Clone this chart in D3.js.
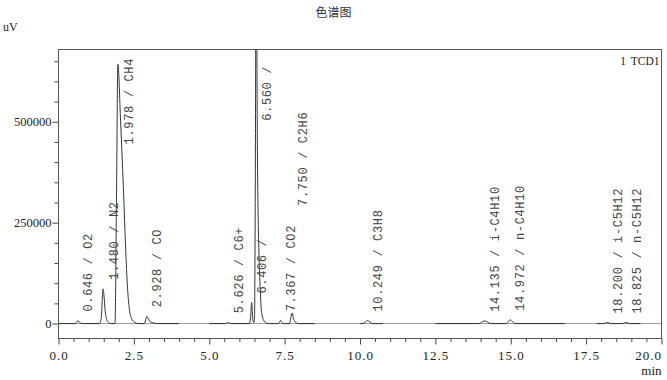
<!DOCTYPE html>
<html><head><meta charset="utf-8">
<script src="https://cdn.jsdelivr.net/npm/d3@7/dist/d3.min.js"></script>
<style>body{margin:0;background:#fff}svg{display:block}</style>
</head><body>
<svg id="c" width="667" height="380"></svg>
<script>
// ---- data ----
const xTicksMajor = [0, 2.5, 5, 7.5, 10, 12.5, 15, 17.5, 20];
const yTicksMajor = [0, 250000, 500000];
const peakTimes = [0.646, 1.480, 1.978, 2.928, 5.626, 6.406, 6.560, 7.367, 7.750, 10.249, 14.135, 14.972, 18.200, 18.825];
const peakNames = ["O2", "N2", "CH4", "CO", "C6+", "", "", "CO2", "C2H6", "C3H8", "i-C4H10", "n-C4H10", "i-C5H12", "n-C5H12"];
const peakHeights = [7500, 86000, 642000, 18000, 3200, 52000, 950000, 8000, 26400, 7500, 6700, 9500, 2500, 2500];

// chromatogram trace, [min, uV]
const trace1 = [[0,0],[0.56,0],[0.61,3500],[0.646,7500],[0.69,3500],[0.76,500],[0.85,0],
  [1.36,0],[1.42,15000],[1.455,65000],[1.48,86000],[1.51,68000],[1.55,30000],[1.60,10000],[1.66,2500],[1.74,0],
  [1.875,0],[1.924,321000],[1.970,642000],[2.06,500000],[2.15,340000],[2.22,200000],[2.28,100000],[2.34,42000],[2.42,13000],[2.52,3000],[2.65,0],
  [2.85,0],[2.89,9000],[2.93,18000],[2.97,13000],[3.04,5000],[3.14,1500],[3.3,0],[4.0,0]];
const trace2 = [[5.0,0],[5.55,0],[5.60,2000],[5.626,3200],[5.66,2000],[5.72,0],
  [6.33,0],[6.37,14000],[6.406,52000],[6.44,14000],[6.475,2500],[6.50,8000],[6.525,300000],[6.556,950000],[6.60,400000],[6.64,200000],[6.68,105000],[6.73,32000],[6.80,9000],[6.90,1000],[7.0,0],
  [7.30,0],[7.335,4000],[7.367,8000],[7.40,4000],[7.45,0],
  [7.66,0],[7.70,12000],[7.75,26400],[7.79,14000],[7.85,4000],[7.95,0],[8.5,0]];
const trace3 = [[10.0,0],[10.1,0],[10.17,3500],[10.25,7500],[10.33,3500],[10.42,0],[10.76,0]];
const trace4 = [[12.5,0],[13.95,0],[14.05,4000],[14.14,6700],[14.23,3500],[14.33,0],[14.85,0],[14.92,5000],[14.98,9500],[15.05,5000],[15.15,0],[16.8,0]];
const trace5 = [[17.85,0],[18.08,0],[18.2,2500],[18.32,0],[18.7,0],[18.83,2500],[18.95,0],[19.3,0]];

// ---- chart ----
const svg = d3.select("#c");
const x = d3.scaleLinear().domain([0, 20]).range([58.5, 661.5]);
const y = d3.scaleLinear().domain([-37000, 679000]).range([338.5, 49.5]);
const pTop = y.range()[1], pBottom = y.range()[0], pLeft = x.range()[0], pRight = x.range()[1];

svg.append("text").attr("x", 333.5).attr("y", 17).attr("text-anchor", "middle")
  .style("font-family", "'Noto Sans CJK SC'").style("font-size", "12px").attr("fill", "#333").text("色谱图");
svg.append("text").attr("x", 3).attr("y", 31).style("font-family", "'Liberation Serif'")
  .style("font-size", "12px").attr("fill", "#222").text("uV");
svg.append("text").attr("x", pRight).attr("y", 375).attr("text-anchor", "end").style("font-family", "'Liberation Serif'")
  .style("font-size", "13px").attr("fill", "#222").text("min");

svg.append("clipPath").attr("id", "clip").append("rect")
  .attr("x", pLeft).attr("y", pTop).attr("width", pRight - pLeft).attr("height", pBottom - pTop);

// axes
const yMinor = d3.range(0, 679000, 50000).filter(v => !yTicksMajor.includes(v));
const xMinor = d3.range(0, 20.01, 0.5).filter(v => !xTicksMajor.includes(v));

function styleAxis(g) {
  g.select(".domain").remove();
  g.selectAll("line").attr("stroke", "#444");
}
svg.append("g").attr("transform", `translate(${pLeft},0)`)
  .call(d3.axisLeft(y).tickValues(yMinor).tickSize(4).tickFormat(""))
  .call(styleAxis);
svg.append("g").attr("transform", `translate(${pLeft},0)`)
  .call(d3.axisLeft(y).tickValues(yTicksMajor).tickSize(6).tickPadding(1).tickFormat(d3.format("d")))
  .call(styleAxis)
  .call(g => g.selectAll("text").style("font-family", "'Liberation Serif'").style("font-size", "12.5px").attr("fill", "#222"));
svg.append("g").attr("transform", `translate(0,${pBottom})`)
  .call(d3.axisBottom(x).tickValues(xMinor).tickSize(3.5).tickFormat(""))
  .call(styleAxis);
svg.append("g").attr("transform", `translate(0,${pBottom})`)
  .call(d3.axisBottom(x).tickValues(xTicksMajor).tickSize(6).tickPadding(6).tickFormat(d3.format(".1f")))
  .call(styleAxis)
  .call(g => g.selectAll("text").style("font-family", "'Liberation Serif'").style("font-size", "13px")
    .style("letter-spacing", "1px").attr("fill", "#222"))
  .call(g => g.selectAll(".tick").filter(d => d === 20).select("text").attr("text-anchor", "end").attr("dx", 0));

// zero baseline
const plot = svg.append("g").attr("clip-path", "url(#clip)");
plot.append("line").attr("x1", x(0)).attr("x2", x(20)).attr("y1", y(0)).attr("y2", y(0))
  .attr("stroke", "#9a9a9a").attr("stroke-width", 1);

// trace
const line = d3.line().x(d => x(d[0])).y(d => y(d[1])).curve(d3.curveMonotoneX);
plot.selectAll("path.trace").data([trace1, trace2, trace3, trace4, trace5]).join("path")
  .attr("class", "trace").attr("d", line).attr("fill", "none").attr("stroke", "#333").attr("stroke-width", 1);

// frame
svg.append("rect").attr("x", pLeft).attr("y", pTop).attr("width", pRight - pLeft).attr("height", pBottom - pTop)
  .attr("fill", "none").attr("stroke", "#555").attr("stroke-width", 1);

svg.append("text").attr("x", pRight - 2).attr("y", 64.5).attr("text-anchor", "end").style("font-family", "'Liberation Serif'")
  .style("font-size", "11.5px").style("word-spacing", "2px").attr("fill", "#222").text("1 TCD1");

// peak labels
let prev = null;
peakTimes.forEach((t, i) => {
  const px = x(t);
  const txt = svg.append("text")
    .attr("xml:space", "preserve").style("white-space", "pre")
    .style("font-family", "'Liberation Mono'").style("font-size", "12px").style("letter-spacing", "0.65px")
    .attr("fill", "#444")
    .text(t.toFixed(3) + " / " + peakNames[i]);
  const len = txt.node().getComputedTextLength();
  let yb = y(peakHeights[i]) - 9;
  if (prev && Math.abs(px - prev.x) < 16 && yb > prev.top - 19) yb = prev.top - 19;
  if (yb - len < pTop + 8.5) yb = pTop + 8.5 + len;
  txt.attr("transform", `translate(${px + 14.5},${yb}) rotate(-90)`);
  prev = { x: px, top: yb - len };
});
</script>
</body></html>
